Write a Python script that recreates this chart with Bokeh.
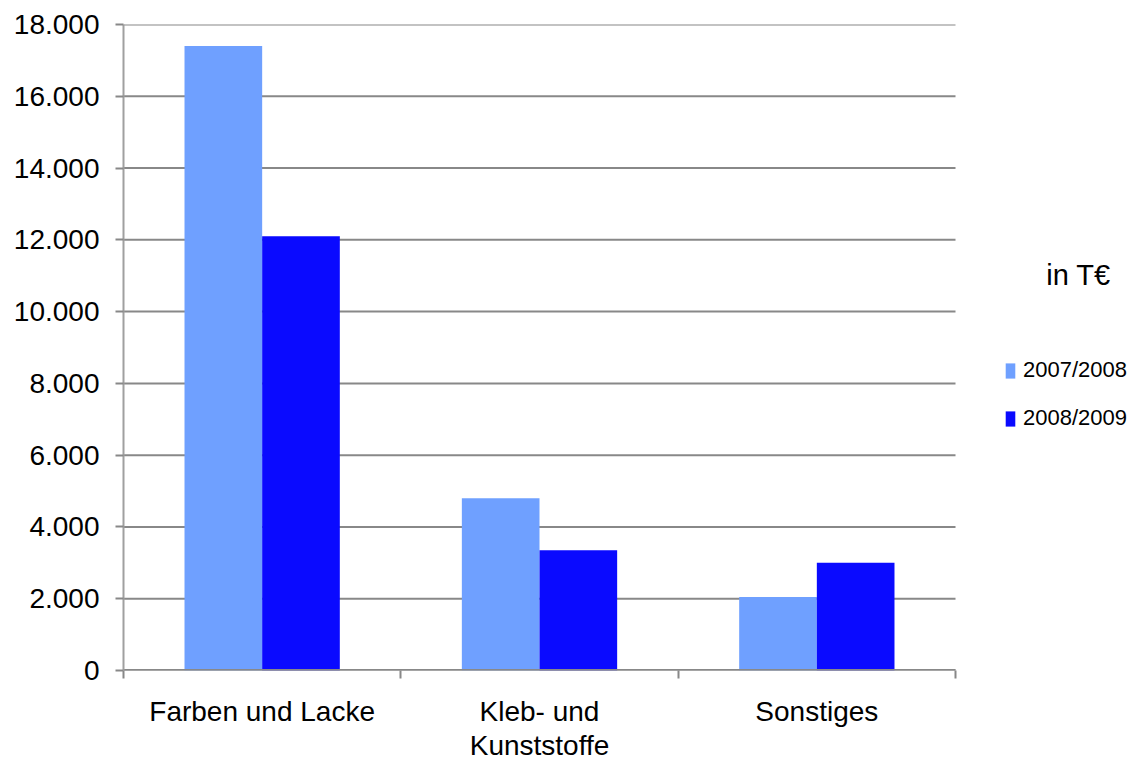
from bokeh.plotting import figure
from bokeh.models import (ColumnDataSource, FixedTicker, Legend, LegendItem,
                          Range1d, Label)
from bokeh.embed import file_html
from bokeh.resources import INLINE

categories = ["Farben und Lacke", "Kleb- und\nKunststoffe", "Sonstiges"]
series_names = ["2007/2008", "2008/2009"]
values_2007_2008 = [17400, 4800, 2050]
values_2008_2009 = [12100, 3350, 3000]
y_ticks = [0, 2000, 4000, 6000, 8000, 10000, 12000, 14000, 16000, 18000]
y_tick_labels = ["0", "2.000", "4.000", "6.000", "8.000", "10.000",
                 "12.000", "14.000", "16.000", "18.000"]
unit_text = "in T€"

colors = ["#6FA0FF", "#0A0AFF"]
FONT = "Liberation Sans"

n = len(categories)
centers = [i + 0.5 for i in range(n)]
bar_w = 0.28
cat_px = 832 / 3          # pixel width of one category slot
frame_w = 1132 - 123      # frame extends to the right edge (legend area)
x_max = frame_w / cat_px

p = figure(width=1132, height=759, frame_width=frame_w, frame_height=646,
           min_border_left=123, min_border_top=24, min_border_right=0,
           min_border_bottom=89, output_backend="svg", toolbar_location=None,
           x_range=Range1d(0, x_max), y_range=Range1d(0, 18000))
p.outline_line_color = None
p.background_fill_color = "white"
p.border_fill_color = "white"

# horizontal gridlines limited to the category area
p.segment(x0=[0] * len(y_ticks), x1=[n] * len(y_ticks), y0=y_ticks, y1=y_ticks,
          line_color="#888888", line_width=2)

src1 = ColumnDataSource(dict(x=[c - bar_w / 2 for c in centers], top=values_2007_2008))
src2 = ColumnDataSource(dict(x=[c + bar_w / 2 for c in centers], top=values_2008_2009))
r1 = p.vbar(x="x", top="top", width=bar_w, source=src1, fill_color=colors[0], line_color=None)
r2 = p.vbar(x="x", top="top", width=bar_w, source=src2, fill_color=colors[1], line_color=None)

# x baseline
p.segment(x0=[0], x1=[n], y0=[0], y1=[0], line_color="#888888", line_width=3)

# y axis
p.yaxis.ticker = FixedTicker(ticks=y_ticks, minor_ticks=[])
p.yaxis.major_label_overrides = {t: l for t, l in zip(y_ticks, y_tick_labels)}
p.yaxis.axis_line_color = "#A0A0A0"
p.yaxis.axis_line_width = 2
p.yaxis.major_tick_line_color = "#888888"
p.yaxis.major_tick_line_width = 2
p.yaxis.major_tick_out = 8
p.yaxis.major_tick_in = 0
p.yaxis.major_label_standoff = 16
p.yaxis.major_label_text_font = FONT
p.yaxis.major_label_text_font_size = "28px"
p.yaxis.major_label_text_color = "black"

# x axis
p.xaxis.ticker = FixedTicker(ticks=centers, minor_ticks=[i for i in range(n + 1)])
p.xaxis.major_label_overrides = {c: l for c, l in zip(centers, categories)}
p.xaxis.axis_line_color = None
p.xaxis.major_tick_out = 0
p.xaxis.major_tick_in = 0
p.xaxis.major_tick_line_color = None
p.xaxis.minor_tick_out = 8
p.xaxis.minor_tick_in = 0
p.xaxis.minor_tick_line_color = "#888888"
p.xaxis.minor_tick_line_width = 2
p.xaxis.major_label_standoff = 17
p.xaxis.major_label_text_font = FONT
p.xaxis.major_label_text_font_size = "28px"
p.xaxis.major_label_text_color = "black"
p.xaxis.major_label_text_line_height = 1.1

p.xgrid.grid_line_color = None
p.ygrid.grid_line_color = None

legend = Legend(items=[LegendItem(label=series_names[0], renderers=[r1]),
                       LegendItem(label=series_names[1], renderers=[r2])],
                location=(881, 238), orientation="vertical")
legend.glyph_width = 12
legend.glyph_height = 19
legend.label_standoff = 7
legend.label_text_font = FONT
legend.label_text_font_size = "22px"
legend.label_text_color = "black"
legend.label_height = 28
legend.spacing = 20
legend.padding = 0
legend.margin = 0
legend.border_line_color = None
legend.background_fill_alpha = 0
p.add_layout(legend)

unit = Label(x=(1078 - 123) / cat_px, y=11030, x_units="data", y_units="data",
             text=unit_text, text_font=FONT, text_font_size="29px",
             text_align="center", text_baseline="middle", text_color="black")
p.add_layout(unit)

open("out.html", "w").write(file_html(p, INLINE))
